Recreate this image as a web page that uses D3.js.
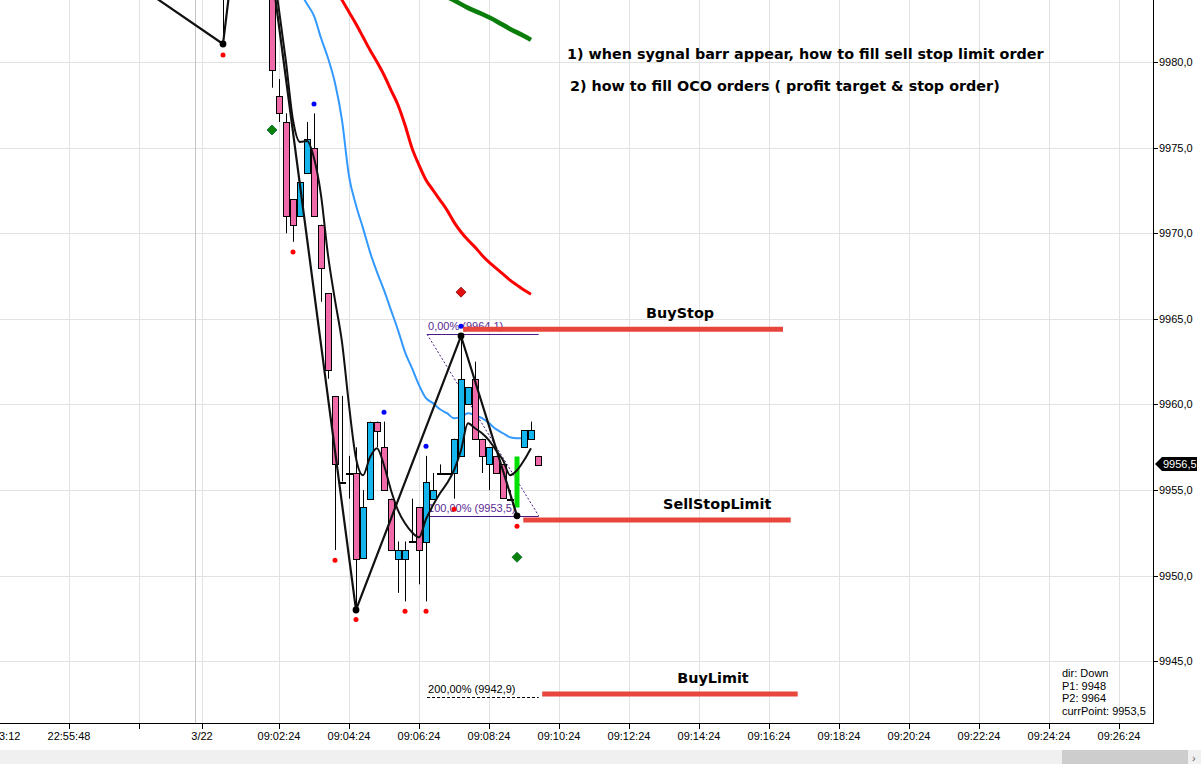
<!DOCTYPE html>
<html><head><meta charset="utf-8">
<script src="https://cdn.jsdelivr.net/npm/d3@7"></script>
<style>html,body{margin:0;padding:0;background:#fff;overflow:hidden}svg{display:block}</style>
</head><body><svg id="c" width="1201" height="764"></svg>
<script>
// ---------- DATA ----------
const barIdx   = [-7,0,1,2,3,4,5,6,7,8,9,10,11,12,13,14,15,16,17,18,19,20,21,22,23,24,25,26,27,28,29,30,31,32,33,34,35,36,37,38];
const barOpen  = [9985.5,9985.0,9978.0,9976.5,9972.0,9971.0,9973.5,9975.0,9970.5,9966.5,9960.5,9955.5,9956.0,9956.0,9951.0,9954.5,9959.0,9957.5,9954.5,9951.0,9951.0,9952.0,9954.0,9952.0,9954.5,9956.0,9956.0,9956.0,9957.0,9960.0,9961.5,9958.0,9956.5,9957.0,9956.5,9954.5,9957.0,9957.5,9958.0,9957.0];
const barHigh  = [9986.5,9985.5,9979.0,9977.0,9972.0,9973.0,9976.5,9977.0,9970.5,9966.5,9960.5,9960.5,9957.0,9957.5,9955.0,9959.0,9959.0,9959.0,9954.5,9952.0,9952.0,9954.5,9954.0,9957.0,9956.0,9956.5,9956.0,9958.0,9964.0,9961.0,9962.5,9958.0,9957.5,9957.0,9956.5,9955.0,9957.0,9958.5,9959.0,9957.0];
const barLow   = [9981.0,9978.5,9976.5,9970.0,9969.5,9971.0,9973.5,9971.0,9966.0,9961.5,9951.5,9955.5,9954.5,9948.0,9951.0,9954.5,9957.5,9955.0,9951.5,9949.0,9948.5,9952.0,9949.5,9948.5,9954.5,9956.0,9956.0,9954.5,9957.0,9960.0,9958.0,9956.0,9955.0,9956.0,9954.5,9954.5,9953.5,9957.5,9958.0,9956.5];
const barClose = [9984.5,9979.5,9977.0,9971.0,9970.5,9973.0,9975.5,9971.0,9968.0,9962.0,9956.5,9955.5,9956.0,9951.0,9954.0,9959.0,9958.5,9955.0,9951.5,9951.5,9951.5,9952.0,9951.5,9955.5,9955.0,9956.0,9956.0,9958.0,9961.5,9961.0,9958.0,9957.0,9957.5,9956.0,9954.5,9954.5,9954.0,9958.5,9958.5,9956.5];
const signalBar = 35;

const blueMaIdx = [4,5,6,7,8,9,10,11,12,13,14,15,16,17,18,19,20,21,22,23,24,25,26,27,28,29,30,31,32,33,34,35,36,37];
const blueMa = [9984.09,9983.39,9982.69,9981.40,9980.23,9978.77,9976.61,9973.34,9971.64,9970.30,9968.90,9967.73,9966.68,9965.51,9964.34,9963.06,9962.12,9961.13,9960.37,9960.08,9959.72,9959.49,9959.20,9959.26,9959.49,9959.37,9959.20,9958.91,9958.56,9958.32,9958.09,9958.03,9958.03,9958.03];

const redMaIdx = [9,10,11,12,13,14,15,16,17,18,19,20,21,22,23,24,25,26,27,28,29,30,31,32,33,34,35,36,37];
const redMa = [9984.3,9983.62,9982.92,9982.22,9981.46,9980.70,9980.00,9979.24,9978.36,9977.49,9976.32,9974.97,9973.98,9973.11,9972.52,9971.94,9971.35,9970.65,9970.07,9969.60,9969.19,9968.72,9968.31,9967.96,9967.61,9967.26,9966.97,9966.68,9966.44];

const greenMaIdx = [25,26,28,30,32,34,36,37];
const greenMa = [9983.8,9983.6,9983.16,9982.80,9982.40,9981.93,9981.52,9981.29];

const blackMaIdx = [0,1,2,3,4,5,6,7,8,9,10,11,12,13,14,15,16,17,18,19,20,21,22,23,24,25,26,27,28,29,30,31,32,33,34,35,36,37];
const blackMa = [9985.96,9983.04,9980.00,9976.61,9975.33,9975.38,9974.39,9972.23,9968.72,9966.09,9963.64,9959.96,9956.86,9955.87,9956.92,9957.45,9956.45,9954.99,9953.82,9953.06,9952.54,9952.24,9953.30,9954.11,9954.82,9955.40,9956.16,9957.33,9958.91,9958.61,9958.32,9957.91,9957.33,9956.74,9955.87,9956.16,9956.74,9957.45];

const zigIdx   = [-25,-7,-3,12,27,35];
const zigPrice = [9986.1,9981.05,9994.5,9948.0,9964.0,9953.5];
const zigDotIdx = [-7,12,27,35];

const redDotIdx = [-7,3,9,12,19,22,26,35];
const redDotPrice = [9980.41,9968.90,9950.90,9947.45,9947.92,9947.92,9953.88,9952.89];
const blueDotIdx = [6,16,22,27];
const blueDotPrice = [9977.55,9959.55,9957.56,9964.57];
const greenDiaIdx = [0,35];
const greenDiaPrice = [9976.03,9951.08];
const redDiaIdx = [27];
const redDiaPrice = [9966.56];

const fibStart = 22.15, fibEnd = 38.1;
const fibLevels = [9964.1, 9953.5, 9942.9];
const fibLabels = ["0,00% (9964,1)", "100,00% (9953,5)", "200,00% (9942,9)"];

const orderNames = ["BuyStop","SellStopLimit","BuyLimit"];
const orderPrice = [9964.4, 9953.25, 9943.1];
const orderStart = [27.3, 35.9, 38.6];
const orderEnd   = [73.0, 74.1, 75.1];
const orderLabelIdx = [58.3, 63.6, 63.0];

const priceTicks = [9945,9950,9955,9960,9965,9970,9975,9980];
const timeTickIdx = [-39,-29,-19,-10,1,11,21,31,41,51,61,71,81,91,101,111,121];
const timeTickLabels = ["22:53:12","22:55:48","","3/22","09:02:24","09:04:24","09:06:24","09:08:24","09:10:24","09:12:24","09:14:24","09:16:24","09:18:24","09:20:24","09:22:24","09:24:24","09:26:24"];
const sessionBreakIdx = -11;
const lastPrice = 9956.5;
const infoLines = ["dir: Down","P1: 9948","P2: 9964","currPoint: 9953,5"];
const noteLines = ["1) when sygnal barr appear, how to fill sell stop limit order","2) how to fill OCO orders ( profit target & stop order)"];

// ---------- LAYOUT ----------
const plotW = 1153, plotH = 723;
const x = d3.scaleLinear().domain([0,38]).range([272,538]);
const y = d3.scaleLinear().domain([9941.4,9983.62]).range([plotH,0]);
const font = "'Liberation Sans', Arial, sans-serif";
const boldFont = "'DejaVu Sans', Verdana, sans-serif";

const svg = d3.select("#c");
svg.append("defs").append("clipPath").attr("id","pc").append("rect").attr("x",0).attr("y",0).attr("width",plotW).attr("height",plotH);

// grid
const grid = svg.append("g");
grid.selectAll(".hg").data(priceTicks).join("line")
  .attr("x1",0).attr("x2",plotW).attr("y1",d=>Math.round(y(d))+0.5).attr("y2",d=>Math.round(y(d))+0.5)
  .attr("stroke","#e2e2e2").attr("stroke-width",1);
grid.selectAll(".vg").data(timeTickIdx.filter(d=>x(d)>0)).join("line")
  .attr("x1",d=>Math.round(x(d))+0.5).attr("x2",d=>Math.round(x(d))+0.5).attr("y1",0).attr("y2",plotH)
  .attr("stroke","#e2e2e2").attr("stroke-width",1);
grid.append("line").attr("x1",Math.round(x(sessionBreakIdx))+0.5).attr("x2",Math.round(x(sessionBreakIdx))+0.5)
  .attr("y1",0).attr("y2",plotH).attr("stroke","#c4c4c4").attr("stroke-width",1);

const plot = svg.append("g").attr("clip-path","url(#pc)");
const lineGen = (idxs, vals) => d3.line().x((d,i)=>x(idxs[i])).y(d=>y(d)).curve(d3.curveMonotoneX)(vals);

// moving averages
plot.append("path").attr("d",lineGen(greenMaIdx,greenMa)).attr("fill","none").attr("stroke","#0a7d0a").attr("stroke-width",4.5);
plot.append("path").attr("d",lineGen(redMaIdx,redMa)).attr("fill","none").attr("stroke","#ff0000").attr("stroke-width",3);

// fib
const fib = plot.append("g");
fib.append("line").attr("x1",x(fibStart)).attr("x2",x(fibEnd)).attr("y1",y(fibLevels[0])).attr("y2",y(fibLevels[1]))
  .attr("stroke","#4b1a86").attr("stroke-width",1).attr("stroke-dasharray","2,2");
fib.selectAll(".fl").data(fibLevels).join("line")
  .attr("x1",x(fibStart)).attr("x2",x(fibEnd)).attr("y1",d=>Math.round(y(d))+0.5).attr("y2",d=>Math.round(y(d))+0.5)
  .attr("stroke",(d,i)=>i===2?"#000":"#4b1a86").attr("stroke-width",1).attr("stroke-dasharray",(d,i)=>i===2?"3,2":null);
fib.selectAll(".ft").data(fibLabels).join("text")
  .attr("x",x(fibStart)+1).attr("y",(d,i)=>y(fibLevels[i])-4)
  .attr("font-family",font).attr("font-size",11).attr("fill",(d,i)=>i===2?"#000":"#5a2a94").text(d=>d);

// blue MA
plot.append("path").attr("d",lineGen(blueMaIdx,blueMa)).attr("fill","none").attr("stroke","#3399ff").attr("stroke-width",2);

// candles
const bars = barIdx.map((d,i)=>({i:d,o:barOpen[i],h:barHigh[i],l:barLow[i],c:barClose[i]}));
const cg = plot.append("g");
cg.selectAll(".wk").data(bars.filter(b=>b.i!==signalBar)).join("line")
  .attr("x1",b=>Math.round(x(b.i))+0.5).attr("x2",b=>Math.round(x(b.i))+0.5)
  .attr("y1",b=>y(b.h)).attr("y2",b=>y(b.l)).attr("stroke","#000").attr("stroke-width",1);
cg.selectAll(".bd").data(bars).join("rect")
  .attr("x",b=>Math.round(x(b.i))-2.5).attr("width",b=>b.i===signalBar?5:6)
  .attr("y",b=>Math.round(y(Math.max(b.o,b.c)))+0.5)
  .attr("height",b=>Math.max(1,Math.round(y(Math.min(b.o,b.c))-y(Math.max(b.o,b.c)))))
  .attr("fill",b=>b.i===signalBar?"#00e000":(b.c>b.o?"#14b4ec":(b.c<b.o?"#f06aaa":"#000")))
  .attr("stroke",b=>b.i===signalBar?"none":"#000").attr("stroke-width",1);

// black MA
plot.append("path").attr("d",lineGen(blackMaIdx,blackMa)).attr("fill","none").attr("stroke","#111").attr("stroke-width",2);
// zigzag
plot.append("path").attr("d",d3.line().x((d,i)=>x(zigIdx[i])).y(d=>y(d))(zigPrice)).attr("fill","none").attr("stroke","#111").attr("stroke-width",2.2);
plot.selectAll(".zd").data(zigDotIdx).join("circle")
  .attr("cx",d=>x(d)).attr("cy",d=>y(zigPrice[zigIdx.indexOf(d)])).attr("r",3.4).attr("fill","#000");

// markers
plot.selectAll(".rd").data(redDotIdx).join("circle").attr("cx",d=>x(d)).attr("cy",(d,i)=>y(redDotPrice[i])).attr("r",2.5).attr("fill","#ff0000");
plot.selectAll(".bdot").data(blueDotIdx).join("circle").attr("cx",d=>x(d)).attr("cy",(d,i)=>y(blueDotPrice[i])).attr("r",2.5).attr("fill","#0000ff");
const dia = d3.symbol().type(d3.symbolDiamond2).size(64);
plot.selectAll(".gd").data(greenDiaIdx).join("path").attr("d",dia)
  .attr("transform",(d,i)=>`translate(${x(d)},${y(greenDiaPrice[i])})`).attr("fill","#0a820a").attr("stroke","#063").attr("stroke-width",0.8);
plot.selectAll(".rdia").data(redDiaIdx).join("path").attr("d",dia)
  .attr("transform",(d,i)=>`translate(${x(d)},${y(redDiaPrice[i])})`).attr("fill","#e01010").attr("stroke","#800").attr("stroke-width",0.8);

// order lines
const og = svg.append("g");
og.selectAll(".ol").data(orderPrice).join("line")
  .attr("x1",(d,i)=>x(orderStart[i])).attr("x2",(d,i)=>x(orderEnd[i])).attr("y1",d=>y(d)).attr("y2",d=>y(d))
  .attr("stroke","#e8453c").attr("stroke-width",5);
og.selectAll(".ot").data(orderNames).join("text")
  .attr("x",(d,i)=>x(orderLabelIdx[i])).attr("y",(d,i)=>y(orderPrice[i])-11)
  .attr("text-anchor","middle").attr("font-family",boldFont).attr("font-weight","bold").attr("font-size",14.4)
  .attr("fill","#000").text(d=>d);

// notes
svg.selectAll(".nt").data(noteLines).join("text")
  .attr("x",(d,i)=>i===0?567:570).attr("y",(d,i)=>i===0?59:91)
  .attr("font-family",boldFont).attr("font-weight","bold").attr("font-size",14.35)
  .attr("fill","#000").text(d=>d);

// info
svg.selectAll(".inf").data(infoLines).join("text")
  .attr("x",1062).attr("y",(d,i)=>677+i*12.5).attr("font-family",font).attr("font-size",11).attr("fill","#000").text(d=>d);

// right axis
const ra = svg.append("g");
ra.append("line").attr("x1",plotW+0.5).attr("x2",plotW+0.5).attr("y1",0).attr("y2",plotH+1).attr("stroke","#000");
ra.selectAll(".rt").data(priceTicks).join("line").attr("x1",plotW).attr("x2",plotW+5)
  .attr("y1",d=>Math.round(y(d))+0.5).attr("y2",d=>Math.round(y(d))+0.5).attr("stroke","#000");
ra.selectAll(".rl").data(priceTicks).join("text").attr("x",plotW+6).attr("y",d=>y(d)+4)
  .attr("font-family",font).attr("font-size",11).attr("fill","#000").text(d=>d3.format(".1f")(d).replace(".",","));
const ly = Math.round(y(lastPrice));
ra.append("path").attr("d",`M${plotW+2},${ly} L${plotW+9},${ly-7} L1197,${ly-7} L1197,${ly+7} L${plotW+9},${ly+7} Z`).attr("fill","#000");
ra.append("text").attr("x",plotW+10).attr("y",ly+4).attr("font-family",font).attr("font-size",11).attr("fill","#fff")
  .text(d3.format(".1f")(lastPrice).replace(".",","));

// bottom axis
const ba = svg.append("g");
ba.append("line").attr("x1",0).attr("x2",plotW+1).attr("y1",plotH+0.5).attr("y2",plotH+0.5).attr("stroke","#000");
ba.selectAll(".bt").data(timeTickIdx).join("line").attr("x1",d=>Math.round(x(d))+0.5).attr("x2",d=>Math.round(x(d))+0.5)
  .attr("y1",plotH).attr("y2",plotH+6).attr("stroke","#000");
ba.selectAll(".bl").data(timeTickLabels).join("text").attr("x",(d,i)=>x(timeTickIdx[i])).attr("y",plotH+17)
  .attr("text-anchor","middle").attr("font-family",font).attr("font-size",11).attr("fill","#000").text(d=>d);

// scrollbar
svg.append("rect").attr("x",0).attr("y",750).attr("width",1201).attr("height",14).attr("fill","#f0f0f0");
svg.append("rect").attr("x",1062).attr("y",750).attr("width",126).attr("height",14).attr("fill","#cdcdcd");
svg.append("text").attr("x",1192).attr("y",762).attr("font-family",font).attr("font-size",11).attr("fill","#606060").text("›");
</script></body></html>
